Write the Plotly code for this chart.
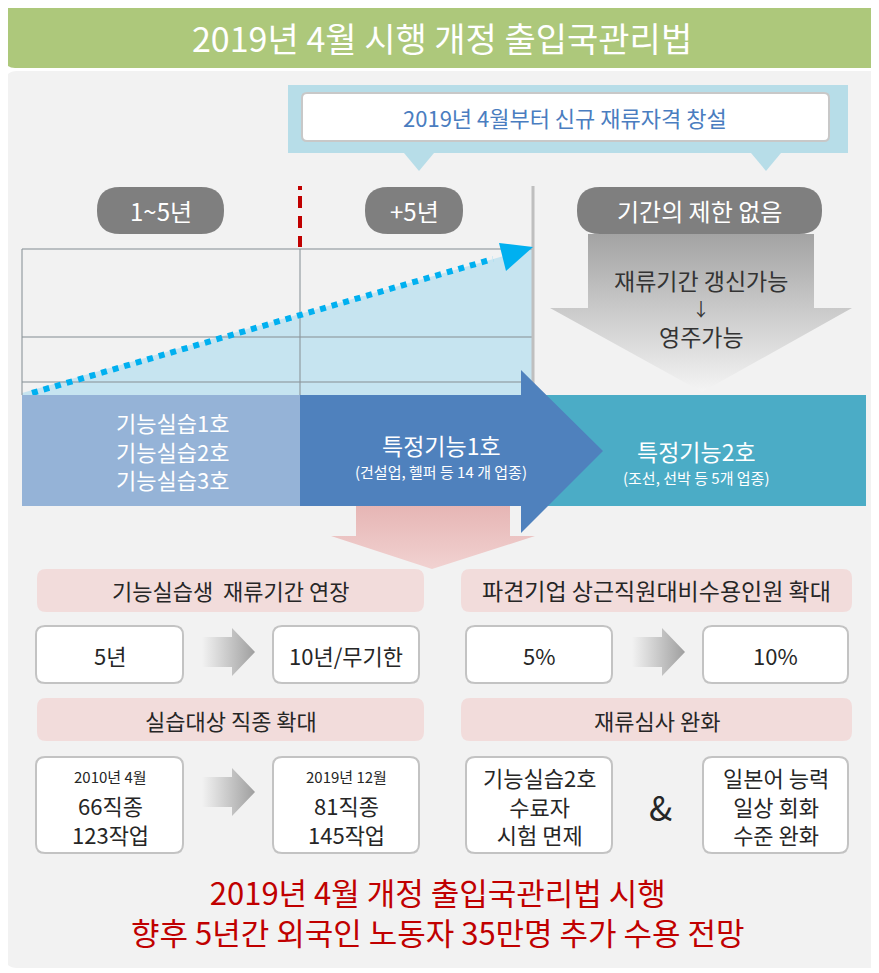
import plotly.graph_objects as go

FONT = "Noto Sans CJK KR"
W, H = 879, 973
OFF = 8  # page body margin offset

title_text = "2019년 4월 시행 개정 출입국관리법"
callout_text = "2019년 4월부터 신규 재류자격 창설"
period_labels = ["1~5년", "+5년", "기간의 제한 없음"]
stay_lines = ["재류기간 갱신가능", "↓", "영주가능"]
stage1_lines = ["기능실습1호", "기능실습2호", "기능실습3호"]
stage_titles = ["특정기능1호", "특정기능2호"]
stage_notes = ["(건설업, 헬퍼 등 14 개 업종)", "(조선, 선박 등 5개 업종)"]
growth_x = [32, 493]
growth_y = [393, 259]
section_titles = ["기능실습생  재류기간 연장", "파견기업 상근직원대비수용인원 확대",
                  "실습대상 직종 확대", "재류심사 완화"]
before_vals = ["5년", "5%"]
after_vals = ["10년/무기한", "10%"]
jobs_before = ["2010년 4월", "66직종", "123작업"]
jobs_after = ["2019년 12월", "81직종", "145작업"]
review_left = ["기능실습2호", "수료자", "시험 면제"]
review_right = ["일본어 능력", "일상 회화", "수준 완화"]
footer_lines = ["2019년 4월 개정 출입국관리법 시행",
                "향후 5년간 외국인 노동자 35만명 추가 수용 전망"]


def rrect(x0, y0, x1, y1, r):
    return (f"M{x0+r},{y0} L{x1-r},{y0} Q{x1},{y0} {x1},{y0+r} "
            f"L{x1},{y1-r} Q{x1},{y1} {x1-r},{y1} L{x0+r},{y1} "
            f"Q{x0},{y1} {x0},{y1-r} L{x0},{y0+r} Q{x0},{y0} {x0+r},{y0} Z")


def poly(pts):
    return "M" + " L".join(f"{x},{y}" for x, y in pts) + " Z"


fig = go.Figure()
shapes = []


def add_path(path, fill, line_color=None, width=0, layer="above"):
    shapes.append(dict(type="path", path=path, fillcolor=fill, layer=layer,
                       line=dict(color=line_color or fill, width=width)))


def add_line(x0, y0, x1, y1, color, width, dash="solid", layer="above"):
    shapes.append(dict(type="line", x0=x0, y0=y0, x1=x1, y1=y1, layer=layer,
                       line=dict(color=color, width=width, dash=dash)))


def text(x, y, s, size, color="#262626"):
    fig.add_annotation(x=x, y=y, text=s, showarrow=False,
                       font=dict(family=FONT, size=size, color=color))


def grad(pts, colors, kind):
    xs = [p[0] for p in pts] + [pts[0][0]]
    ys = [p[1] for p in pts] + [pts[0][1]]
    fig.add_trace(go.Scatter(
        x=xs, y=ys, mode="lines", fill="toself", line=dict(width=0),
        fillgradient=dict(type=kind, colorscale=[[0, colors[0]], [1, colors[1]]]),
        hoverinfo="skip", showlegend=False))


# background blocks
add_path(rrect(5, 2, 895, 68, 10), "#adc87b", layer="below")
add_path(rrect(5, 71, 895, 968, 12), "#f2f2f2", layer="below")
text(442, 37, title_text, 34, "white")

# callout
add_path(poly([(288, 85), (848, 85), (848, 153), (288, 153)]), "#b7dde8", layer="below")
add_path(poly([(404, 153), (434, 153), (419, 171)]), "#b7dde8", layer="below")
add_path(poly([(751, 153), (781, 153), (766, 171)]), "#b7dde8", layer="below")
add_path(rrect(302, 93, 829, 141, 5), "white", "#c8c8c8", 2, layer="below")
text(565, 117, callout_text, 22, "#4a7dc0")

# period pills
pill_box = [(97, 224), (365, 463), (577, 822)]
for (x0, x1), lab in zip(pill_box, period_labels):
    add_path(rrect(x0, 187, x1, 234, 23), "#7f7f7f")
    text((x0 + x1) / 2, 210, lab, 24, "white")

# red dashed divider
for y0, y1 in [(186, 190), (196, 208), (216, 228), (236, 247)]:
    add_line(300, y0, 300, y1, "#c00000", 4)
add_line(533, 186, 533, 395, "#bfbfbf", 3)

# growth area
add_path(poly([(22, 395), (22, 393), (532, 248), (532, 395)]), "#c6e4f0", layer="below")
grid_c = "rgba(140,150,155,0.55)"
add_line(22, 249, 532, 249, grid_c, 2, layer="below")
add_line(22, 249, 22, 395, grid_c, 2, layer="below")
add_line(22, 337, 532, 337, grid_c, 2, layer="below")
add_line(22, 382, 532, 382, grid_c, 2, layer="below")
add_line(300, 249, 300, 395, grid_c, 2, layer="below")
fig.add_trace(go.Scatter(x=growth_x, y=growth_y, mode="lines",
                         line=dict(color="#00b0f0", width=6, dash="6px,6px"),
                         hoverinfo="skip", showlegend=False))
add_path(poly([(499, 243), (533, 247), (506, 271)]), "#00b0f0")

# stay arrow (gradient)
grad([(588, 234), (814, 234), (814, 308), (852, 308), (702, 392), (550, 308), (588, 308)],
     ["#f4f4f4", "#a3a3a3"], "vertical")
for yy, s in zip([280, 308, 336], stay_lines):
    text(701, yy, s, 23 if s != "↓" else 18, "#333333")

# pink arrow down
grad([(356, 505), (510, 505), (510, 536), (535, 536), (432, 569), (331, 536), (356, 536)],
     ["#f1d2d1", "#e6b5b4"], "vertical")

# stage band
add_path(poly([(22, 395), (300, 395), (300, 506), (22, 506)]), "#95b3d7")
add_path(poly([(520, 395), (866, 395), (866, 506), (520, 506)]), "#4bacc6")
add_path(poly([(300, 395), (521, 395), (521, 370), (603, 451), (521, 533), (521, 506), (300, 506)]),
         "#4f81bd")
text(172, 450, "<br>".join(stage1_lines), 22, "white")
text(441, 445, stage_titles[0], 23, "white")
text(441, 471, stage_notes[0], 15, "white")
text(696, 451, stage_titles[1], 23, "white")
text(696, 477, stage_notes[1], 15, "white")

# lower sections
head_x = [(37, 424), (461, 852)]
head_size = [22, 23]
for i, (hx0, hx1) in enumerate(head_x):
    add_path(rrect(hx0, 569, hx1, 612, 9), "#f2dcdb")
    add_path(rrect(hx0, 698, hx1, 741, 9), "#f2dcdb")
    text((hx0 + hx1) / 2, 590, section_titles[i], head_size[i])
    text((hx0 + hx1) / 2, 720, section_titles[i + 2], 22)

cols = [(36, 183, 273, 419, 202, 232, 255), (466, 612, 703, 848, 632, 662, 685)]
for i, (a0, a1, b0, b1, r0, r1, r2) in enumerate(cols):
    for (y0, y1) in [(626, 683), (757, 853)]:
        add_path(rrect(a0, y0, a1, y1, 9), "white", "#c3c3c3", 2)
        add_path(rrect(b0, y0, b1, y1, 9), "white", "#c3c3c3", 2)
    text((a0 + a1) / 2, 655, before_vals[i], 22)
    text((b0 + b1) / 2, 655, after_vals[i], 22)
    arrow_rows = [652, 792] if i == 0 else [652]
    for cy in arrow_rows:
        grad([(r0, cy - 15), (r1, cy - 15), (r1, cy - 24), (r2, cy), (r1, cy + 24),
              (r1, cy + 15), (r0, cy + 15)], ["#f2f2f2", "#9f9f9f"], "horizontal")

text(110, 776, jobs_before[0], 15)
text(110, 819, "<br>".join(jobs_before[1:]), 22)
text(346, 776, jobs_after[0], 15)
text(346, 819, "<br>".join(jobs_after[1:]), 22)
text(539, 805, "<br>".join(review_left), 22)
text(776, 805, "<br>".join(review_right), 22)
text(660, 806, "&", 34)

text(438, 911, "<br>".join(footer_lines), 31, "#c00000")

fig.update_layout(
    width=W, height=H, margin=dict(l=0, r=0, t=0, b=0),
    paper_bgcolor="white", plot_bgcolor="white", shapes=shapes,
    xaxis=dict(range=[OFF, W + OFF], visible=False, fixedrange=True),
    yaxis=dict(range=[H + OFF, OFF], visible=False, fixedrange=True),
    font=dict(family=FONT),
)
fig.write_html("out.html")
